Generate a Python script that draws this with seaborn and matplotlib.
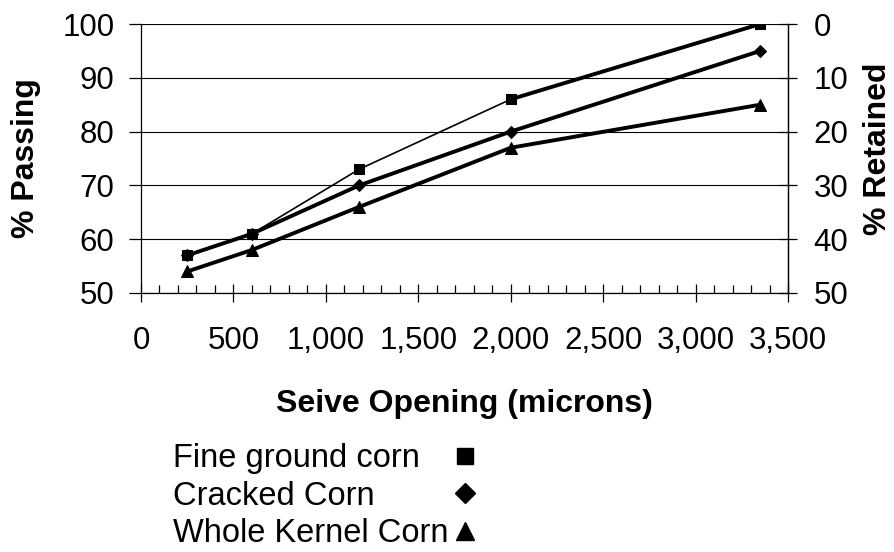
import matplotlib
matplotlib.use("Agg")
import matplotlib.pyplot as plt
from matplotlib.lines import Line2D
from matplotlib.ticker import MultipleLocator, FuncFormatter
from matplotlib.transforms import Bbox
import seaborn as sns
import pandas as pd

# Sieve openings (microns) and cumulative % passing for each corn grind
sieve_openings = [250, 600, 1180, 2000, 3350]
fine_ground = [57, 61, 73, 86, 100]
cracked = [57, 61, 70, 80, 95]
whole_kernel = [54, 58, 66, 77, 85]

series_names = ["Fine ground corn", "Cracked Corn", "Whole Kernel Corn"]
series_values = [fine_ground, cracked, whole_kernel]
series_markers = ["s", "D", "^"]

sns.set_style("white")
plt.rcParams["font.family"] = ["Liberation Sans", "DejaVu Sans"]
for key in ["text.color", "axes.labelcolor", "xtick.color", "ytick.color"]:
    plt.rcParams[key] = "black"

df = pd.concat(
    [pd.DataFrame({"Sieve": sieve_openings, "Passing": vals, "Series": name})
     for name, vals in zip(series_names, series_values)],
    ignore_index=True,
)

fig = plt.figure(figsize=(8.95, 5.52), dpi=100)
ax = fig.add_axes([141 / 895, 1 - 293 / 552, 647 / 895, 269 / 552])

marker_size = {"s": 7.5, "D": 6.5, "^": 8}
# thick lines for cracked and whole kernel, thin line for fine ground
for name, mk, lw in zip(series_names, series_markers, [1.2, 2.8, 2.8]):
    sub = df[df["Series"] == name]
    sns.lineplot(data=sub, x="Sieve", y="Passing", ax=ax, color="black",
                 linewidth=lw, marker=mk, markersize=marker_size[mk],
                 markeredgecolor="black", markerfacecolor="black",
                 legend=False, zorder=3)
# the coarse end of the fine ground curve is drawn heavy
tail = df[(df["Series"] == series_names[0]) & (df["Sieve"] >= 2000)]
sns.lineplot(data=tail, x="Sieve", y="Passing", ax=ax, color="black",
             linewidth=2.8, marker="s", markersize=7.5, markeredgecolor="black",
             legend=False, zorder=3)

tick_fs = 22.5
label_fs = 23
ax.set_xlim(0, 3500)
ax.set_ylim(50, 100)
ax.xaxis.set_major_locator(MultipleLocator(500))
ax.xaxis.set_minor_locator(MultipleLocator(100))
ax.xaxis.set_major_formatter(FuncFormatter(lambda v, p: f"{int(v):,}"))
ax.yaxis.set_major_locator(MultipleLocator(10))
ax.grid(axis="y", color="black", linewidth=0.8)
ax.set_axisbelow(True)

ax.spines["top"].set_visible(False)
for side in ["left", "bottom", "right"]:
    ax.spines[side].set_visible(True)
    ax.spines[side].set_color("black")
    ax.spines[side].set_linewidth(0.9)

ax.tick_params(axis="x", which="major", direction="inout", length=13, width=0.9,
               pad=17, labelsize=tick_fs, colors="black", bottom=True)
ax.tick_params(axis="x", which="minor", direction="in", length=6, width=0.9,
               bottom=True, colors="black")
ax.tick_params(axis="y", which="major", direction="out", length=9, width=0.9,
               pad=10, labelsize=tick_fs, colors="black", left=True)

ax.set_xlabel("Seive Opening (microns)", fontsize=label_fs, fontweight="bold",
              labelpad=24)
ax.set_ylabel("% Passing", fontsize=label_fs, fontweight="bold", va="center")
ax.yaxis.set_label_coords(-0.178, 0.5)

# secondary scale: % retained on the sieve
ax2 = ax.twinx()
ax2.set_ylim(50, 0)
ax2.yaxis.set_major_locator(MultipleLocator(10))
ax2.tick_params(axis="y", which="major", direction="inout", length=13, width=0.9,
                pad=12, labelsize=tick_fs, colors="black", right=True)
for side in ["top", "left", "bottom"]:
    ax2.spines[side].set_visible(False)
ax2.spines["right"].set_color("black")
ax2.spines["right"].set_linewidth(0.9)
ax2.set_ylabel("% Retained", fontsize=label_fs, fontweight="bold", va="center",
               rotation=90)
ax2.yaxis.set_label_coords(1.139, 0.535)

handles = [Line2D([], [], linestyle="none", marker=mk, color="black",
                  markersize={"s": 11, "D": 10, "^": 13}[mk])
           for mk in series_markers]
leg = fig.legend(handles, series_names, loc="upper left",
                 bbox_to_anchor=(173 / 895, 1 - 443 / 552), frameon=False,
                 markerfirst=False, fontsize=23.5, handlelength=0.8,
                 handletextpad=0.1, labelspacing=0.2, borderpad=0,
                 borderaxespad=0)

# labels are left-aligned in one column, with the symbols lined up after them
rows = leg._legend_handle_box.get_children()[0].get_children()
text_areas = [row.get_children()[0] for row in rows]
base_bbox = [ta.get_bbox for ta in text_areas]


def _uniform_width(own):
    def get_bbox(renderer):
        bb = own(renderer)
        width = max(f(renderer).width for f in base_bbox)
        return Bbox.from_bounds(bb.x0, bb.y0, width, bb.height)
    return get_bbox


for ta, own in zip(text_areas, base_bbox):
    ta.get_bbox = _uniform_width(own)

fig.savefig("out.png", dpi=100, facecolor="white")
